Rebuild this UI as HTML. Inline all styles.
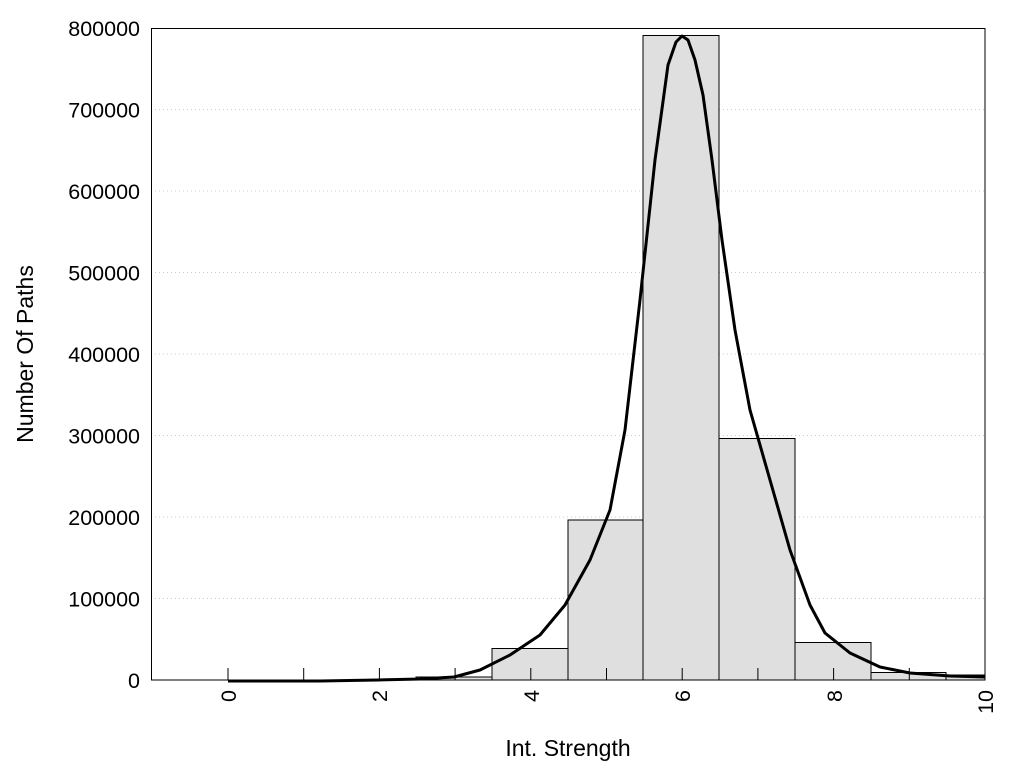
<!DOCTYPE html>
<html><head><style>body{margin:0;background:#fff}</style></head><body>
<svg width="1024" height="768" xmlns="http://www.w3.org/2000/svg" font-family="Liberation Sans, Arial, sans-serif">
<rect width="1024" height="768" fill="#fff"/>
<g stroke="#ccc" stroke-dasharray="1,3" stroke-width="1">
<line x1="151" x2="985" y1="598.5" y2="598.5"/><line x1="151" x2="985" y1="517" y2="517"/>
<line x1="151" x2="985" y1="435.5" y2="435.5"/><line x1="151" x2="985" y1="354" y2="354"/>
<line x1="151" x2="985" y1="272.5" y2="272.5"/><line x1="151" x2="985" y1="191" y2="191"/>
<line x1="151" x2="985" y1="109.5" y2="109.5"/>
</g>
<g fill="#dfdfdf" stroke="#000" stroke-width="1">
<rect x="416" y="677" width="76" height="3"/>
<rect x="492" y="648.5" width="76" height="31.5"/>
<rect x="568" y="520" width="75" height="160"/>
<rect x="643" y="35.5" width="76" height="644.5"/>
<rect x="719" y="438.5" width="76" height="241.5"/>
<rect x="795" y="642.5" width="76" height="37.5"/>
<rect x="871" y="672.5" width="75" height="7.5"/>
<rect x="946" y="675" width="39" height="5"/>
</g>
<g stroke="#000" stroke-width="1">
<line x1="228" x2="228" y1="668" y2="680"/><line x1="303.7" x2="303.7" y1="668" y2="680"/>
<line x1="379.4" x2="379.4" y1="668" y2="680"/><line x1="455.1" x2="455.1" y1="668" y2="680"/>
<line x1="530.8" x2="530.8" y1="668" y2="680"/><line x1="606.5" x2="606.5" y1="668" y2="680"/>
<line x1="682.2" x2="682.2" y1="668" y2="680"/><line x1="757.9" x2="757.9" y1="668" y2="680"/>
<line x1="833.6" x2="833.6" y1="668" y2="680"/><line x1="909.3" x2="909.3" y1="668" y2="680"/>
</g>
<polyline fill="none" stroke="#000" stroke-width="3" stroke-linejoin="round" points="228,681 320,681 378,680 420,679 454,677 480,670 510,655 540,635 565,605 590,560 610,510 625,430 640,300 655,160 668,65 676,42 682,36 688,40 695,60 703,95 712,160 722,240 735,330 750,410 770,480 790,550 810,605 825,633 850,653 880,667 910,673 950,676 985,677"/>
<rect x="151.5" y="28.5" width="833.5" height="651.5" fill="none" stroke="#000" stroke-width="1"/>
<g font-size="21.5" text-anchor="end" fill="#000">
<text x="140" y="688">0</text><text x="140" y="606.5">100000</text><text x="140" y="525">200000</text>
<text x="140" y="443.5">300000</text><text x="140" y="362">400000</text><text x="140" y="280.5">500000</text>
<text x="140" y="199">600000</text><text x="140" y="117.5">700000</text><text x="140" y="36">800000</text>
</g>
<g font-size="21.5" text-anchor="end" fill="#000">
<text transform="translate(236,690) rotate(-90)">0</text>
<text transform="translate(387,690) rotate(-90)">2</text>
<text transform="translate(539,690) rotate(-90)">4</text>
<text transform="translate(690,690) rotate(-90)">6</text>
<text transform="translate(842,690) rotate(-90)">8</text>
<text transform="translate(993,690) rotate(-90)">10</text>
</g>
<text x="568" y="756" font-size="23" text-anchor="middle">Int. Strength</text>
<text transform="translate(33,354) rotate(-90)" font-size="23" text-anchor="middle">Number Of Paths</text>
</svg>
</body></html>
